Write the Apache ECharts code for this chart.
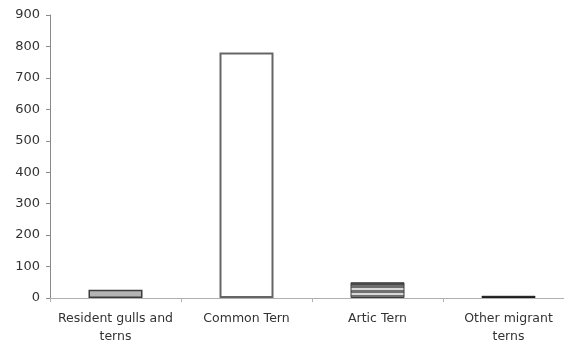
<!DOCTYPE html>
<html><head><meta charset="utf-8">
<script src="https://cdn.jsdelivr.net/npm/echarts@6/dist/echarts.min.js"></script>
<style>html,body{margin:0;padding:0;background:#fff;overflow:hidden;width:564px;height:346px}#c{width:575px;height:346px}</style>
</head><body><div id="c"></div>
<script>
var categories = ['Resident gulls and\nterns', 'Common Tern', 'Artic Tern', 'Other migrant\nterns'];
var values = [26, 781, 50, 7];
var yTicks = [0, 100, 200, 300, 400, 500, 600, 700, 800, 900];

var stripe = new echarts.graphic.LinearGradient(0, 0, 0, 1, [
  {offset: 0, color: '#4a4a4a'}, {offset: 0.18, color: '#4a4a4a'},
  {offset: 0.18, color: '#6e6e6e'}, {offset: 0.38, color: '#6e6e6e'},
  {offset: 0.38, color: '#d8d8d8'}, {offset: 0.48, color: '#d8d8d8'},
  {offset: 0.48, color: '#707070'}, {offset: 0.68, color: '#707070'},
  {offset: 0.68, color: '#d8d8d8'}, {offset: 0.78, color: '#d8d8d8'},
  {offset: 0.78, color: '#707070'}, {offset: 1, color: '#707070'}
]);
var styles = [
  {color: '#b4b4b4', borderColor: '#3c3c3c', borderWidth: 1.5},
  {color: '#ffffff', borderColor: '#666666', borderWidth: 2},
  {color: stripe, borderColor: '#3c3c3c', borderWidth: 1},
  {color: '#1e1e1e', borderColor: '#1e1e1e', borderWidth: 1}
];

var chart = echarts.init(document.getElementById('c'));
chart.setOption({
  animation: false,
  grid: {left: 50, top: 15, right: 1, bottom: 47, containLabel: false},
  xAxis: {
    type: 'category', data: categories,
    axisLine: {lineStyle: {color: '#b0b0b0', width: 1}},
    axisTick: {show: true, length: 4, lineStyle: {color: '#b0b0b0'}},
    axisLabel: {color: '#333', fontFamily: 'DejaVu Sans', fontSize: 12.5, margin: 12, lineHeight: 18, interval: 0}
  },
  yAxis: {
    type: 'value', min: 0, max: 900, interval: 100,
    axisLine: {show: true, lineStyle: {color: '#8a8a8a', width: 1}},
    axisTick: {show: true, length: 4, lineStyle: {color: '#8a8a8a'}},
    splitLine: {show: false},
    axisLabel: {color: '#333', fontFamily: 'DejaVu Sans', fontSize: 13, margin: 10,
      formatter: function (v) { return yTicks.indexOf(v) >= 0 ? String(v) : ''; }}
  },
  series: [{
    type: 'bar', barWidth: 54,
    data: values.map(function (v, i) { return {value: v, itemStyle: styles[i]}; })
  }]
});
</script></body></html>
